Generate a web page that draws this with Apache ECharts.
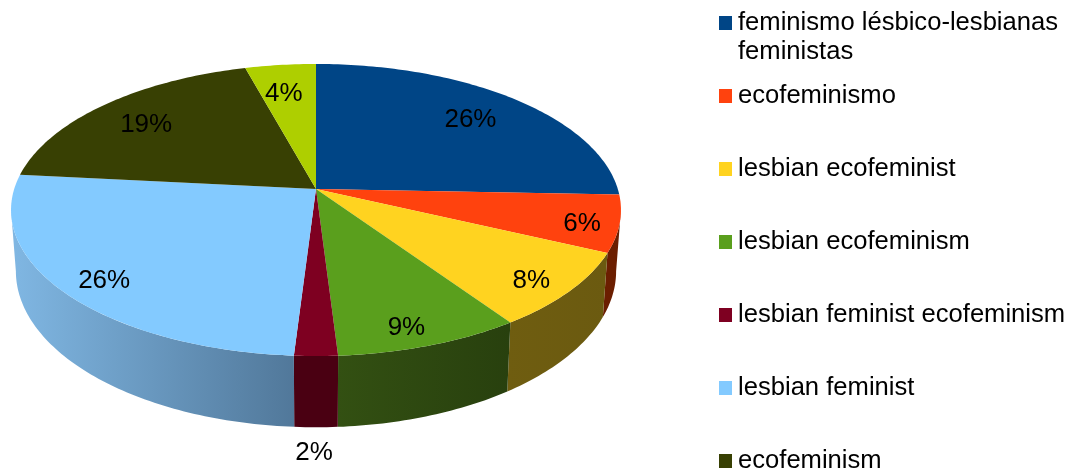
<!DOCTYPE html>
<html>
<head>
<meta charset="utf-8">
<style>html,body{margin:0;padding:0;background:#fff}#c{width:1073px;height:470px}</style>
<script src="https://cdn.jsdelivr.net/npm/echarts@6/dist/echarts.min.js"></script>
</head>
<body>
<div id="c"></div>
<script>
const categories = ['feminismo lésbico-lesbianas', 'ecofeminismo', 'lesbian ecofeminist', 'lesbian ecofeminism', 'lesbian feminist ecofeminism', 'lesbian feminist', 'ecofeminism', ''];
const values = [25.6, 6.3, 8.49, 8.61, 2.0, 25.6, 19.1, 4.3];
const colors = ['#004586', '#ff420e', '#ffd320', '#5a9f1d', '#7e0021', '#83caff', '#384003', '#aecf00'];
const wallLeft = ['#00264a', '#6b1e00', '#6f5d10', '#335012', '#4a0012', '#80b7e3', '#1c2002', '#5a6b00'];
const wallRight = ['#00264a', '#6b1e00', '#6b5a10', '#28400e', '#4a0012', '#51789a', '#1c2002', '#5a6b00'];
const legendNames = categories.slice(0, 7);
const secondLine = 'feministas';
const labelNudge = [[-1, 2], [3, 5], [-3, 5], [-7, 6], [0, 4], [6, 4], [-4, 2], [-4, 3]];

const LEGEND_FONT = '25.6px "Liberation Sans", Arial, sans-serif';
const LABEL_FONT = '26px "Liberation Sans", Arial, sans-serif';
const total = values.reduce((a, b) => a + b, 0);
const k = 0.1438;
const top3d = { x: 316, y: 189, a: 301.8, b: 143 };
const bot3d = { x: 316, y: 248.7, a: 297, b: 152.9 };
const silhouette = Math.acos(-k);

function project(p, ang, r) {
  const u = r * Math.sin(ang), v = -r * Math.cos(ang);
  const d = 1 - k * v;
  return [p.x + p.a * u / d, p.y + p.b * v / d];
}
function arc(p, from, to) {
  const n = Math.max(2, Math.ceil(Math.abs(to - from) * 60));
  const pts = [];
  for (let i = 0; i <= n; i++) pts.push(project(p, from + (to - from) * i / n, 1));
  return pts;
}

function renderSlice(params, api) {
  const idx = params.seriesIndex;
  const start = api.value(0) / total * Math.PI * 2;
  const val = api.value(1);
  const end = start + val / total * Math.PI * 2;
  const mid = (start + end) / 2;
  const children = [];
  const wFrom = Math.max(start, silhouette), wTo = Math.min(end, Math.PI * 2 - silhouette);
  if (wTo > wFrom) {
    const t = arc(top3d, wFrom, wTo), b = arc(bot3d, wFrom, wTo).reverse();
    children.push({
      type: 'polygon',
      shape: { points: t.concat(b) },
      style: {
        fill: new echarts.graphic.LinearGradient(0, 0, 1, 0, [
          { offset: 0, color: wallLeft[idx] },
          { offset: 1, color: wallRight[idx] }
        ])
      }
    });
  }
  children.push({
    type: 'polygon',
    shape: { points: [[top3d.x, top3d.y]].concat(arc(top3d, start, end)) },
    style: { fill: colors[idx] }
  });
  const front = -Math.cos(mid) > 0;
  let lp;
  if (val < 3) {
    const e = project(bot3d, mid, 1);
    lp = [e[0] - 2, e[1] + 22];
  } else {
    lp = project(top3d, mid, front ? 0.87 : 0.77);
  }
  children.push({
    type: 'text',
    z2: 10,
    style: {
      text: Math.round(val) + '%',
      x: lp[0] + labelNudge[idx][0],
      y: lp[1] + labelNudge[idx][1],
      font: LABEL_FONT, fill: '#000', align: 'center', verticalAlign: 'middle'
    }
  });
  return { type: 'group', children };
}

let cum = 0;
const series = values.map((v, i) => {
  const s = {
    type: 'custom',
    name: categories[i],
    coordinateSystem: 'none',
    itemStyle: { color: colors[i] },
    silent: true,
    animation: false,
    renderItem: renderSlice,
    data: [[cum, v]]
  };
  cum += v;
  return s;
});

const chart = echarts.init(document.getElementById('c'));
chart.setOption({
  animation: false,
  backgroundColor: '#fff',
  legend: {
    orient: 'vertical',
    left: 719,
    top: 10,
    padding: 0,
    height: 700,
    data: legendNames,
    icon: 'rect',
    itemWidth: 13,
    itemHeight: 14,
    itemGap: 47,
    selectedMode: false,
    textStyle: { fontFamily: 'Liberation Sans', fontSize: 25.6, color: '#000', padding: [0, 0, 0, 1] }
  },
  graphic: [{
    type: 'text',
    left: 738,
    top: 39,
    silent: true,
    style: { text: secondLine, font: LEGEND_FONT, fill: '#000' }
  }],
  series
});
</script>
</body>
</html>
